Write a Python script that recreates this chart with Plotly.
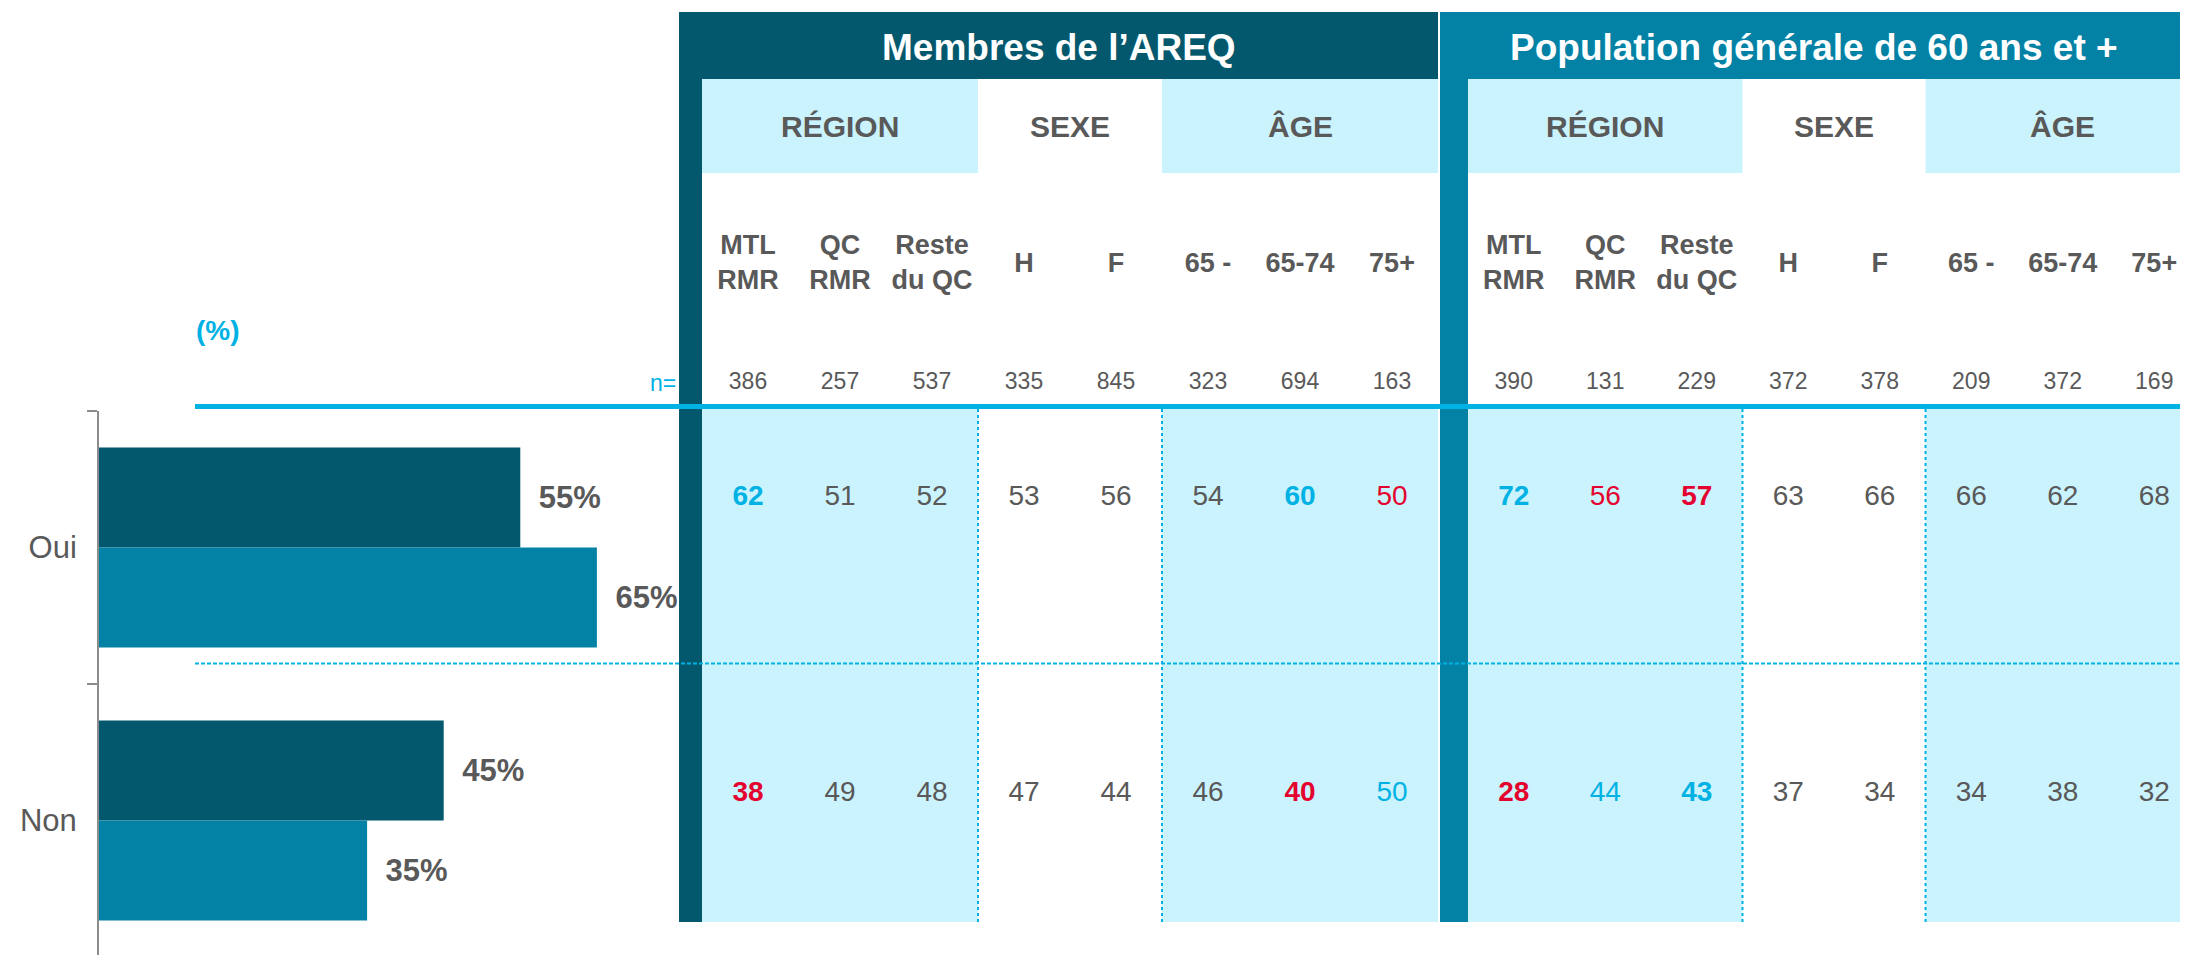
import plotly.graph_objects as go

# ---------------- data ----------------
answers = ["Oui", "Non"]
membres_total = [55, 45]
population_total = [65, 35]

group_titles = ["Membres de l’AREQ", "Population générale de 60 ans et +"]
section_labels = ["RÉGION", "SEXE", "ÂGE"]
section_sizes = [3, 2, 3]
column_labels = ["MTL<br>RMR", "QC<br>RMR", "Reste<br>du QC", "H", "F", "65 -", "65-74", "75+"]

n_membres = [386, 257, 537, 335, 845, 323, 694, 163]
n_population = [390, 131, 229, 372, 378, 209, 372, 169]

oui_membres = [62, 51, 52, 53, 56, 54, 60, 50]
non_membres = [38, 49, 48, 47, 44, 46, 40, 50]
oui_population = [72, 56, 57, 63, 66, 66, 62, 68]
non_population = [28, 44, 43, 37, 34, 34, 38, 32]

# significance: "++" blue bold, "+" blue, "--" red bold, "-" red, "" none
sig_oui_membres = ["++", "", "", "", "", "", "++", "-"]
sig_non_membres = ["--", "", "", "", "", "", "--", "+"]
sig_oui_population = ["++", "-", "--", "", "", "", "", ""]
sig_non_population = ["--", "+", "++", "", "", "", "", ""]

# ---------------- style ----------------
SCREEN_W, SCREEN_H = 2188, 955
OFF = 8  # page body margin
W, H = SCREEN_W - OFF, SCREEN_H - OFF
FONT = "Liberation Sans, Arial, sans-serif"
DARK = "#03586E"
MID = "#0382A6"
LIGHT = "#CBF3FE"
BLUE = "#00B2E3"
RED = "#E4032E"
GRAY = "#595959"
AXIS = "#8C8C8C"

# layout grid (screen pixels)
blocks = [
    dict(x0=679, bar=23, colw=92.0, color=DARK, n=n_membres,
         rows=[(oui_membres, sig_oui_membres), (non_membres, sig_non_membres)]),
    dict(x0=1440, bar=28, colw=91.5, color=MID, n=n_population,
         rows=[(oui_population, sig_oui_population), (non_population, sig_non_population)]),
]
HEAD_Y0, HEAD_Y1 = 12, 79
SUB_Y1 = 173
LABEL_Y = 265
N_Y = 383
LINE_Y = 406.5
DATA_Y0, DATA_Y1 = 406, 922
ROW_Y = [498, 794]
DIV_Y = 663.5
LEFT_LINE_X = 195
AXIS_X = 99
BAR_SCALE_END = 865   # screen x of 100 %
PLOT_TOP = 411
CAT_PX = 273

fig = go.Figure()

# ---------------- bar chart ----------------
for vals, col, name in [(membres_total, DARK, "Membres"), (population_total, MID, "Population")]:
    fig.add_trace(go.Bar(
        y=answers, x=vals, orientation="h", name=name,
        marker=dict(color=col, line=dict(width=0)),
        texttemplate="\u2002%{x}%", textposition="outside",
        textfont=dict(family=FONT, size=31, color=GRAY, weight="bold"),
        cliponaxis=False, hoverinfo="skip",
    ))

# ---------------- table (screen-pixel grid axes x2/y2) ----------------
shapes = []
annotations = []


def rect(x0, x1, y0, y1, color):
    shapes.append(dict(type="rect", xref="x2", yref="y2", x0=x0, x1=x1, y0=y0, y1=y1,
                       fillcolor=color, line=dict(width=0), layer="below"))


for bi, b in enumerate(blocks):
    x0 = b["x0"]
    cx0 = x0 + b["bar"]
    right = cx0 + 8 * b["colw"]
    vis_right = min(right, SCREEN_W)
    rect(x0, vis_right, HEAD_Y0, HEAD_Y1, b["color"])
    rect(x0, cx0, HEAD_Y0, DATA_Y1, b["color"])
    annotations.append(dict(xref="x2", yref="y2", x=(x0 + vis_right) / 2, y=(HEAD_Y0 + HEAD_Y1) / 2 + 2,
                            text=f"<b>{group_titles[bi]}</b>", showarrow=False,
                            font=dict(family=FONT, size=37, color="white")))
    start = 0
    for si, (lab, size) in enumerate(zip(section_labels, section_sizes)):
        sx0 = cx0 + start * b["colw"]
        sx1 = cx0 + (start + size) * b["colw"]
        if si != 1:
            rect(sx0, min(sx1, SCREEN_W), HEAD_Y1, SUB_Y1, LIGHT)
            rect(sx0, min(sx1, SCREEN_W), DATA_Y0, DATA_Y1, LIGHT)
        else:
            for vx in (sx0, sx1):
                shapes.append(dict(type="line", xref="x2", yref="y2", x0=vx, x1=vx,
                                   y0=DATA_Y0 + 3, y1=DATA_Y1,
                                   line=dict(color=BLUE, width=2, dash="dot"), layer="above"))
        annotations.append(dict(xref="x2", yref="y2", x=(sx0 + sx1) / 2, y=(HEAD_Y1 + SUB_Y1) / 2,
                                text=f"<b>{lab}</b>", showarrow=False,
                                font=dict(family=FONT, size=30, color=GRAY)))
        start += size
    centers = [cx0 + (i + 0.5) * b["colw"] for i in range(8)]
    fig.add_trace(go.Scatter(
        x=centers, y=[LABEL_Y] * 8, xaxis="x2", yaxis="y2", mode="text",
        text=[f"<b>{c.replace('<br>', '</b><br><b>')}</b>" for c in column_labels],
        textfont=dict(family=FONT, size=27, color=GRAY), hoverinfo="skip", showlegend=False,
    ))
    fig.add_trace(go.Scatter(
        x=centers, y=[N_Y] * 8, xaxis="x2", yaxis="y2", mode="text",
        text=[str(v) for v in b["n"]],
        textfont=dict(family=FONT, size=23, color=GRAY), hoverinfo="skip", showlegend=False,
    ))
    for ri, (vals, sigs) in enumerate(b["rows"]):
        texts, colors = [], []
        for v, s in zip(vals, sigs):
            t = str(v)
            if len(s) == 2:
                t = f"<b>{t}</b>"
            texts.append(t)
            colors.append(BLUE if s.startswith("+") else RED if s.startswith("-") else GRAY)
        fig.add_trace(go.Scatter(
            x=centers, y=[ROW_Y[ri]] * 8, xaxis="x2", yaxis="y2", mode="text",
            text=texts, textfont=dict(family=FONT, size=28, color=colors),
            hoverinfo="skip", showlegend=False,
        ))

shapes.append(dict(type="line", xref="x2", yref="y2", x0=LEFT_LINE_X, x1=SCREEN_W, y0=LINE_Y, y1=LINE_Y,
                   line=dict(color=BLUE, width=5), layer="above"))
shapes.append(dict(type="line", xref="x2", yref="y2", x0=LEFT_LINE_X, x1=SCREEN_W, y0=DIV_Y, y1=DIV_Y,
                   line=dict(color=BLUE, width=2, dash="4px,2px"), layer="above"))

annotations.append(dict(xref="x2", yref="y2", x=218, y=330, text="<b>(%)</b>", showarrow=False,
                        font=dict(family=FONT, size=28, color=BLUE)))
annotations.append(dict(xref="x2", yref="y2", x=678, y=N_Y, text="n=", showarrow=False,
                        xanchor="right", font=dict(family=FONT, size=23, color=BLUE)))

y_bottom_val = -0.5 + (SCREEN_H - PLOT_TOP) / CAT_PX

fig.update_layout(
    width=W, height=H,
    margin=dict(l=0, r=0, t=0, b=0),
    paper_bgcolor="white", plot_bgcolor="rgba(0,0,0,0)",
    barmode="group", bargap=0.267, bargroupgap=0,
    showlegend=False, hovermode=False,
    font=dict(family=FONT, color=GRAY),
    xaxis=dict(domain=[(AXIS_X - OFF) / W, (BAR_SCALE_END - OFF) / W], range=[0, 100],
               visible=False, fixedrange=True),
    yaxis=dict(domain=[0, (SCREEN_H - PLOT_TOP) / H], type="category",
               range=[y_bottom_val, -0.5],
               showline=True, linecolor=AXIS, linewidth=2,
               ticks="outside", ticklen=10, tickcolor=AXIS, tickwidth=2,
               tickson="boundaries", showgrid=False, zeroline=False,
               ticklabelstandoff=14,
               tickfont=dict(family=FONT, size=31, color=GRAY), fixedrange=True),
    xaxis2=dict(domain=[0, 1], range=[OFF, SCREEN_W], visible=False, anchor="y2", fixedrange=True),
    yaxis2=dict(domain=[0, 1], range=[SCREEN_H, OFF], visible=False, anchor="x2", fixedrange=True),
    shapes=shapes,
    annotations=annotations,
)

fig.write_html("out.html")
